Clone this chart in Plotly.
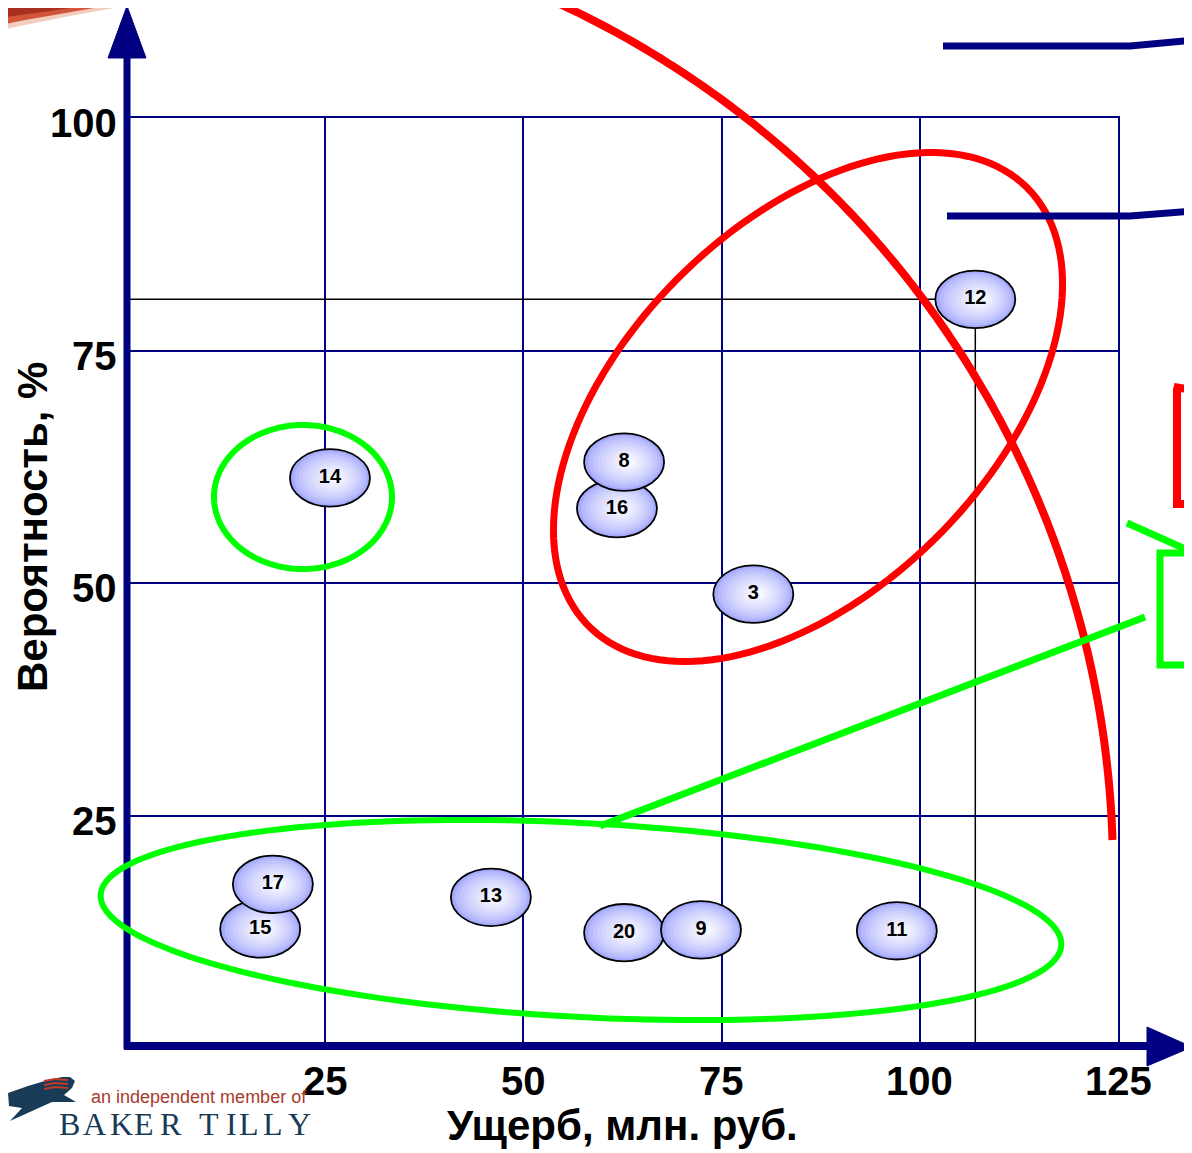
import numpy as np
import plotly.graph_objects as go

# ---------------- data ----------------
risk_ids = ["12", "14", "16", "8", "3", "15", "17", "13", "20", "9", "11"]
damage = [107.0, 25.6, 61.8, 62.7, 79.0, 16.8, 18.4, 45.9, 62.7, 72.4, 97.1]       # млн. руб.
probability = [80.5, 61.3, 58.0, 63.0, 48.8, 12.8, 17.6, 16.2, 12.4, 12.7, 12.6]  # %
x_ticks = [25, 50, 75, 100, 125]
y_ticks = [25, 50, 75, 100]
x_title = "Ущерб, млн. руб."
y_title = "Вероятность, %"
logo_line1 = "an independent member of"
logo_line2 = "BAKER TILLY"
guide_id = "12"

# ---------------- layout geometry ----------------
OFF = 8                      # page body margin of the html page
W, H = 1192 - OFF, 1153 - OFF
PL, PT, PR, PB = 127, 118, 1118, 1048   # plot area in page pixels
L, T = PL - OFF, PT - OFF
R, B = 1192 - PR, 1153 - PB
PW, PH = PR - PL, PB - PT
NAVY = "#000080"
RED = "#ff0000"
GREEN = "#00ff00"


def px(x, y):
    """page pixel -> paper coords"""
    return (x - PL) / PW, (PB - y) / PH


def path_from(points, close=False):
    s = ""
    for i, (x, y) in enumerate(points):
        xp, yp = px(x, y)
        s += ("M" if i == 0 else "L") + f"{xp:.5f},{yp:.5f} "
    if close:
        s += "Z"
    return s


def ellipse_pts(cx, cy, a, b, ang_deg, n=160):
    th = np.radians(ang_deg)
    u = np.array([np.cos(th), -np.sin(th)])
    v = np.array([np.sin(th), np.cos(th)])
    t = np.linspace(0, 2 * np.pi, n)
    return [(cx + a * np.cos(tt) * u[0] + b * np.sin(tt) * v[0],
             cy + a * np.cos(tt) * u[1] + b * np.sin(tt) * v[1]) for tt in t]


shapes = []

# guide lines for the highest risk (drawn under bubbles)
gi = risk_ids.index(guide_id)
shapes.append(dict(type="line", xref="x", yref="y", x0=0, x1=damage[gi],
                   y0=probability[gi], y1=probability[gi],
                   line=dict(color="black", width=1.5), layer="between"))
shapes.append(dict(type="line", xref="x", yref="y", x0=damage[gi], x1=damage[gi],
                   y0=probability[gi], y1=0,
                   line=dict(color="black", width=1.5), layer="between"))

# bubbles (ellipses with radial gradient approximation)
RX = 40 / (PW / 125)
RY = 28.7 / (PH / 100)
c_out = np.array([166, 170, 252])
c_in = np.array([248, 248, 255])
NL = 10
for xi, yi in zip(damage, probability):
    for k in range(NL):
        f = k / (NL - 1)
        s = 1.0 - 0.85 * f
        col = c_out + (c_in - c_out) * (f ** 0.7)
        sx = xi + 0.12 * RX * f
        shapes.append(dict(
            type="circle", xref="x", yref="y",
            x0=sx - RX * s, x1=sx + RX * s, y0=yi - RY * s, y1=yi + RY * s,
            fillcolor=f"rgb({int(col[0])},{int(col[1])},{int(col[2])})",
            line=dict(color="black", width=1.8) if k == 0 else dict(width=0),
            layer="between"))

# thick axes with arrows
shapes.append(dict(type="path", xref="paper", yref="paper",
                   path=path_from([(127, 1049), (127, 55)]),
                   line=dict(color=NAVY, width=7)))
shapes.append(dict(type="path", xref="paper", yref="paper",
                   path=path_from([(124, 1046), (1150, 1046)]),
                   line=dict(color=NAVY, width=8)))
shapes.append(dict(type="path", xref="paper", yref="paper",
                   path=path_from([(108, 58), (127, 6), (146, 58)], close=True),
                   fillcolor=NAVY, line=dict(color=NAVY, width=1)))
shapes.append(dict(type="path", xref="paper", yref="paper",
                   path=path_from([(1147, 1027), (1192, 1047), (1147, 1066)], close=True),
                   fillcolor=NAVY, line=dict(color=NAVY, width=1)))

# red arc
cxa, cya, ra = 157, 871, 956
ths = np.linspace(np.radians(-66.8), np.arctan2(840 - cya, 1113 - cxa), 200)
shapes.append(dict(type="path", xref="paper", yref="paper",
                   path=path_from([(cxa + ra * np.cos(t), cya + ra * np.sin(t)) for t in ths]),
                   line=dict(color=RED, width=8)))
# red ellipse
shapes.append(dict(type="path", xref="paper", yref="paper",
                   path=path_from(ellipse_pts(808, 407, 310, 183, 45), close=True),
                   line=dict(color=RED, width=7)))
# green ellipse around 14
shapes.append(dict(type="path", xref="paper", yref="paper",
                   path=path_from(ellipse_pts(303, 497, 89, 72, 0), close=True),
                   line=dict(color=GREEN, width=6)))
# green ellipse bottom
shapes.append(dict(type="path", xref="paper", yref="paper",
                   path=path_from(ellipse_pts(581, 920, 481, 97, -3), close=True),
                   line=dict(color=GREEN, width=6)))
# green connector line
shapes.append(dict(type="path", xref="paper", yref="paper",
                   path=path_from([(600, 826), (1145, 617)]),
                   line=dict(color=GREEN, width=7)))
# right side fragments
shapes.append(dict(type="path", xref="paper", yref="paper",
                   path=path_from([(1127, 523), (1192, 552)]),
                   line=dict(color=GREEN, width=7)))
shapes.append(dict(type="path", xref="paper", yref="paper",
                   path=path_from([(1195, 553), (1160, 553), (1160, 665), (1195, 665)]),
                   line=dict(color=GREEN, width=7)))
shapes.append(dict(type="path", xref="paper", yref="paper",
                   path=path_from([(1195, 390), (1174, 387), (1177, 388), (1177, 504), (1195, 504)]),
                   line=dict(color=RED, width=8)))
shapes.append(dict(type="path", xref="paper", yref="paper",
                   path=path_from([(943, 46), (1130, 46), (1195, 40)]),
                   line=dict(color=NAVY, width=7)))
shapes.append(dict(type="path", xref="paper", yref="paper",
                   path=path_from([(947, 216), (1130, 216), (1195, 211)]),
                   line=dict(color=NAVY, width=7)))

# top-left swoosh (curved band)
shapes.append(dict(type="path", xref="paper", yref="paper",
                   path=path_from([(0, 0), (160, 0), (120, 7), (70, 16), (30, 24), (0, 30)], close=True),
                   fillcolor="#f3cdbf", line=dict(width=0)))
shapes.append(dict(type="path", xref="paper", yref="paper",
                   path=path_from([(0, 0), (145, 0), (105, 6), (60, 14), (25, 20), (0, 25)], close=True),
                   fillcolor="#d0553a", line=dict(width=0)))
shapes.append(dict(type="path", xref="paper", yref="paper",
                   path=path_from([(0, 0), (125, 0), (90, 5), (50, 11), (20, 15), (0, 18)], close=True),
                   fillcolor="#a8301f", line=dict(width=0)))

# logo bird
bird = [(8, 1093), (28, 1086), (48, 1080), (62, 1077), (70, 1077), (75, 1081), (72, 1088),
        (64, 1095), (76, 1102), (52, 1102), (32, 1111), (10, 1121), (22, 1108), (9, 1106)]
shapes.append(dict(type="path", xref="paper", yref="paper",
                   path=path_from(bird, close=True), fillcolor="#183c58", line=dict(width=0)))
for dy in (0, 4, 8):
    shapes.append(dict(type="path", xref="paper", yref="paper",
                       path=path_from([(44, 1081 + dy), (55, 1079 + dy), (68, 1080 + dy)]),
                       line=dict(color="#c0392b", width=2)))

# ---------------- figure ----------------
fig = go.Figure()
fig.add_trace(go.Scatter(
    x=damage, y=probability, mode="text", text=risk_ids,
    textposition="middle center",
    textfont=dict(family="Liberation Sans Narrow, Arial Narrow, Liberation Sans",
                  size=20, color="black", weight="bold"),
    hoverinfo="skip", showlegend=False))

tick_font = dict(family="Liberation Sans", size=40, color="black", weight="bold")
annotations = []
for v in x_ticks:
    annotations.append(dict(text=str(v), x=v, y=px(0, 1081)[1], xref="x", yref="paper",
                            showarrow=False, xanchor="center", yanchor="middle",
                            font=tick_font))
for v in y_ticks:
    annotations.append(dict(text=str(v), x=px(119, 0)[0], y=v, xref="paper", yref="y",
                            yshift=-5, showarrow=False, xanchor="right", yanchor="middle",
                            font=tick_font))
annotations += [
    dict(text=x_title, x=px(622, 1125)[0], y=px(622, 1125)[1], xref="paper", yref="paper",
         showarrow=False, xanchor="center", yanchor="middle",
         font=dict(family="Liberation Sans", size=42, color="black", weight="bold")),
    dict(text=y_title, x=px(32, 527)[0], y=px(32, 527)[1], xref="paper", yref="paper",
         showarrow=False, xanchor="center", yanchor="middle", textangle=-90,
         font=dict(family="Liberation Sans", size=42, color="black", weight="bold")),
    dict(text=logo_line1, x=px(89, 1097)[0], y=px(89, 1097)[1], xref="paper", yref="paper",
         showarrow=False, xanchor="left", yanchor="middle",
         font=dict(family="Liberation Sans", size=18, color="#a83a2e")),
]
letter_centers = [69, 94.5, 121, 144, 171, None, 208.5, 231, 249, 272.5, 299]
for ch, cx in zip(logo_line2, letter_centers):
    if cx is None:
        continue
    annotations.append(dict(text=ch, x=px(cx, 1124)[0], y=px(cx, 1124)[1],
                            xref="paper", yref="paper", showarrow=False,
                            xanchor="center", yanchor="middle",
                            font=dict(family="Liberation Serif", size=32, color="#183a56")))

axis_common = dict(showgrid=True, gridcolor=NAVY, gridwidth=1.5, zeroline=False,
                   showline=True, mirror=True, linecolor=NAVY, linewidth=1.5,
                   ticks="", showticklabels=False)
fig.update_layout(
    width=W, height=H,
    margin=dict(l=L, r=R, t=T, b=B, pad=0),
    paper_bgcolor="white", plot_bgcolor="white",
    xaxis=dict(range=[0, 125], tickvals=x_ticks, **axis_common),
    yaxis=dict(range=[0, 100], tickvals=y_ticks, **axis_common),
    shapes=shapes, annotations=annotations, showlegend=False,
)
fig.write_html("out.html", config={"displayModeBar": False})
